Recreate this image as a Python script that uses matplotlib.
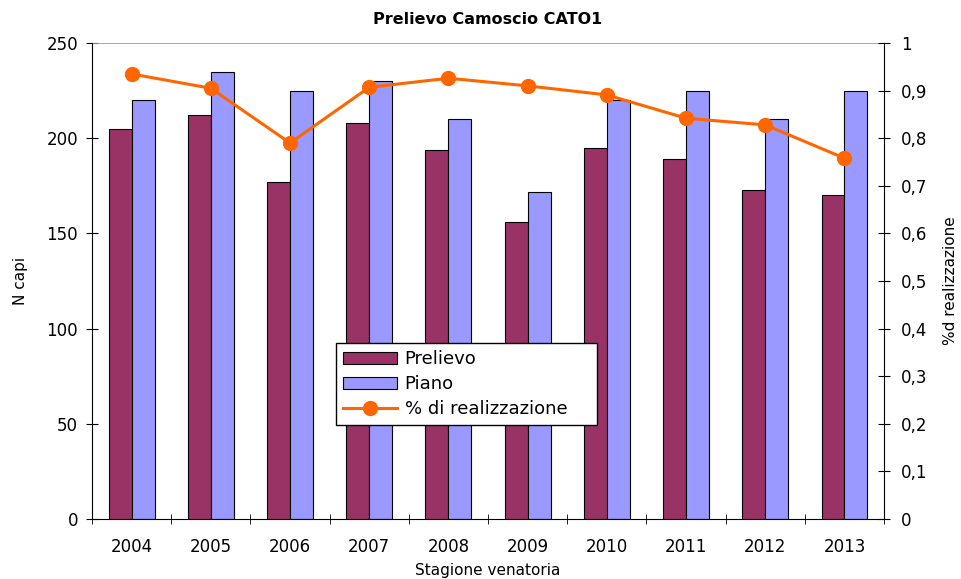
import matplotlib.pyplot as plt
import numpy as np
from matplotlib.ticker import FixedLocator

plt.rcParams['font.family'] = ['DejaVu Sans']

# dati
stagioni = ['2004', '2005', '2006', '2007', '2008', '2009', '2010', '2011', '2012', '2013']
prelievo = [205, 212, 177, 208, 194, 156, 195, 189, 173, 170]
piano = [220, 235, 225, 230, 210, 172, 220, 225, 210, 225]
realizzazione = [0.935, 0.905, 0.79, 0.907, 0.926, 0.91, 0.891, 0.842, 0.828, 0.758]

fig = plt.figure(figsize=(9.62, 5.79), dpi=100)
ax = fig.add_axes([0.0956, 0.1036, 0.8234, 0.8221])
x = np.arange(len(stagioni))
w = 0.29

b1 = ax.bar(x - w / 2, prelievo, w, color='#993366', edgecolor='black', linewidth=0.8)
b2 = ax.bar(x + w / 2, piano, w, color='#9999FF', edgecolor='black', linewidth=0.8)
ax.set_xlim(-0.5, len(stagioni) - 0.5)
ax.set_ylim(0, 250)
ax.set_yticks(range(0, 251, 50))
ax.set_xticks(x)
ax.set_xticklabels(stagioni)
ax.xaxis.set_minor_locator(FixedLocator(np.arange(-0.5, len(stagioni), 1)))
ax.tick_params(axis='x', which='major', length=0, labelsize=12, pad=14)
ax.tick_params(axis='x', which='minor', direction='inout', length=7)
ax.tick_params(axis='y', direction='inout', length=8, labelsize=12, pad=6)
ax.axhline(250, color='#999999', linewidth=1.2)
ax.spines['top'].set_visible(False)
ax.spines['right'].set_visible(False)
ax.set_xlabel('Stagione venatoria', fontsize=11, labelpad=5)
ax.set_ylabel('N capi', fontsize=11, labelpad=13)
ax.set_title('Prelievo Camoscio CATO1', fontsize=11.5, fontweight='bold', pad=14)

ax2 = ax.twinx()
l1, = ax2.plot(x, realizzazione, color='#FF6600', linewidth=2.2, marker='o', markersize=10)
ax2.set_ylim(0, 1)
ax2.set_yticks(np.arange(0, 1.01, 0.1))
ax2.set_yticklabels(['0'] + ['0,%d' % i for i in range(1, 10)] + ['1'])
ax2.tick_params(axis='y', direction='inout', length=8, labelsize=12, pad=8)
for s in ['top', 'left', 'bottom']:
    ax2.spines[s].set_visible(False)
ax2.set_ylabel('%d realizzazione', fontsize=11, labelpad=11)

leg = ax2.legend([b1, b2, l1], ['Prelievo', 'Piano', '% di realizzazione'],
                 loc='lower left', bbox_to_anchor=(0.308, 0.197, 0.3295, 0.17),
                 mode='expand', borderaxespad=0,
                 fontsize=13, fancybox=False, edgecolor='black', framealpha=1,
                 handlelength=3.0, handleheight=0.6, handletextpad=0.4,
                 borderpad=0.4, labelspacing=0.38)
leg.get_frame().set_linewidth(1)

fig.savefig('out.png', dpi=100)
